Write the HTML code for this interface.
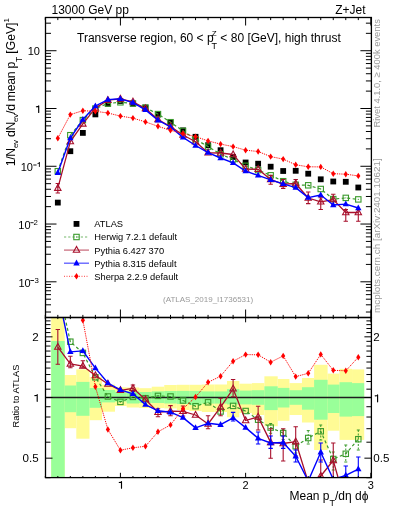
<!DOCTYPE html>
<html><head><meta charset="utf-8"><style>html,body{margin:0;padding:0;background:#fff;width:393px;height:512px;overflow:hidden}svg{display:block;will-change:transform}</style></head>
<body><svg width="393" height="512" viewBox="0 0 393 512" font-family="Liberation Sans, sans-serif">
<defs><clipPath id="c1"><rect x="45.5" y="17.5" width="325.9" height="300.0"/></clipPath>
<clipPath id="c2"><rect x="45.5" y="317.5" width="325.9" height="160.1"/></clipPath></defs>
<rect width="393" height="512" fill="#fff"/>
<g clip-path="url(#c2)">
<rect x="51.20" y="300.00" width="13.50" height="190.00" fill="#fffb95"/>
<rect x="64.70" y="375.00" width="11.60" height="53.20" fill="#fffb95"/>
<rect x="76.30" y="369.40" width="13.20" height="69.30" fill="#fffb95"/>
<rect x="89.50" y="377.00" width="12.50" height="43.20" fill="#fffb95"/>
<rect x="102.00" y="384.60" width="13.00" height="27.10" fill="#fffb95"/>
<rect x="115.00" y="387.30" width="11.68" height="18.70" fill="#fffb95"/>
<rect x="126.68" y="387.50" width="12.52" height="20.00" fill="#fffb95"/>
<rect x="139.20" y="388.20" width="12.52" height="19.80" fill="#fffb95"/>
<rect x="151.72" y="386.70" width="12.52" height="21.30" fill="#fffb95"/>
<rect x="164.24" y="385.00" width="12.52" height="23.40" fill="#fffb95"/>
<rect x="176.76" y="384.80" width="12.52" height="25.20" fill="#fffb95"/>
<rect x="189.28" y="384.80" width="12.52" height="26.20" fill="#fffb95"/>
<rect x="201.80" y="384.50" width="12.52" height="27.50" fill="#fffb95"/>
<rect x="214.32" y="384.50" width="12.68" height="27.50" fill="#fffb95"/>
<rect x="227.00" y="381.00" width="12.36" height="36.30" fill="#fffb95"/>
<rect x="239.36" y="383.70" width="12.52" height="29.30" fill="#fffb95"/>
<rect x="251.88" y="383.10" width="12.52" height="31.90" fill="#fffb95"/>
<rect x="264.40" y="376.30" width="13.30" height="49.90" fill="#fffb95"/>
<rect x="277.70" y="379.00" width="11.74" height="41.80" fill="#fffb95"/>
<rect x="289.44" y="383.10" width="12.52" height="31.90" fill="#fffb95"/>
<rect x="301.96" y="378.00" width="12.14" height="44.50" fill="#fffb95"/>
<rect x="314.10" y="364.80" width="13.50" height="85.20" fill="#fffb95"/>
<rect x="327.60" y="373.60" width="11.92" height="57.10" fill="#fffb95"/>
<rect x="339.52" y="368.80" width="12.52" height="71.10" fill="#fffb95"/>
<rect x="352.04" y="369.40" width="12.16" height="70.50" fill="#fffb95"/>
<rect x="51.20" y="341.00" width="13.50" height="149.00" fill="#99ff99"/>
<rect x="64.70" y="385.50" width="11.60" height="26.70" fill="#99ff99"/>
<rect x="76.30" y="381.90" width="13.20" height="33.90" fill="#99ff99"/>
<rect x="89.50" y="388.00" width="12.50" height="19.80" fill="#99ff99"/>
<rect x="102.00" y="390.00" width="13.00" height="12.40" fill="#99ff99"/>
<rect x="115.00" y="391.70" width="11.68" height="9.80" fill="#99ff99"/>
<rect x="126.68" y="391.30" width="12.52" height="12.20" fill="#99ff99"/>
<rect x="139.20" y="392.00" width="12.52" height="11.00" fill="#99ff99"/>
<rect x="151.72" y="391.30" width="12.52" height="11.70" fill="#99ff99"/>
<rect x="164.24" y="391.00" width="12.52" height="12.50" fill="#99ff99"/>
<rect x="176.76" y="390.90" width="12.52" height="13.10" fill="#99ff99"/>
<rect x="189.28" y="390.90" width="12.52" height="14.10" fill="#99ff99"/>
<rect x="201.80" y="391.40" width="12.52" height="12.20" fill="#99ff99"/>
<rect x="214.32" y="391.40" width="12.68" height="12.20" fill="#99ff99"/>
<rect x="227.00" y="389.10" width="12.36" height="15.30" fill="#99ff99"/>
<rect x="239.36" y="390.60" width="12.52" height="13.80" fill="#99ff99"/>
<rect x="251.88" y="390.20" width="12.52" height="14.60" fill="#99ff99"/>
<rect x="264.40" y="386.30" width="13.30" height="23.80" fill="#99ff99"/>
<rect x="277.70" y="387.90" width="11.74" height="19.60" fill="#99ff99"/>
<rect x="289.44" y="390.20" width="12.52" height="14.60" fill="#99ff99"/>
<rect x="301.96" y="387.20" width="12.14" height="22.50" fill="#99ff99"/>
<rect x="314.10" y="379.80" width="13.50" height="39.90" fill="#99ff99"/>
<rect x="327.60" y="384.60" width="11.92" height="28.40" fill="#99ff99"/>
<rect x="339.52" y="382.20" width="12.52" height="34.40" fill="#99ff99"/>
<rect x="352.04" y="383.10" width="12.16" height="33.00" fill="#99ff99"/>
</g>
<line x1="45.5" y1="397.5" x2="371.4" y2="397.5" stroke="#1e1e1e" stroke-width="1.5"/>
<g clip-path="url(#c1)">
<rect x="54.92" y="199.70" width="5.8" height="5.8" fill="#000"/>
<rect x="67.44" y="148.30" width="5.8" height="5.8" fill="#000"/>
<rect x="79.96" y="130.00" width="5.8" height="5.8" fill="#000"/>
<rect x="92.48" y="111.50" width="5.8" height="5.8" fill="#000"/>
<rect x="105.00" y="100.90" width="5.8" height="5.8" fill="#000"/>
<rect x="117.52" y="98.10" width="5.8" height="5.8" fill="#000"/>
<rect x="130.04" y="100.80" width="5.8" height="5.8" fill="#000"/>
<rect x="142.56" y="104.60" width="5.8" height="5.8" fill="#000"/>
<rect x="155.08" y="111.60" width="5.8" height="5.8" fill="#000"/>
<rect x="167.60" y="119.60" width="5.8" height="5.8" fill="#000"/>
<rect x="180.12" y="127.50" width="5.8" height="5.8" fill="#000"/>
<rect x="192.64" y="133.90" width="5.8" height="5.8" fill="#000"/>
<rect x="205.16" y="142.30" width="5.8" height="5.8" fill="#000"/>
<rect x="217.68" y="147.30" width="5.8" height="5.8" fill="#000"/>
<rect x="230.20" y="154.10" width="5.8" height="5.8" fill="#000"/>
<rect x="242.72" y="159.60" width="5.8" height="5.8" fill="#000"/>
<rect x="255.24" y="160.80" width="5.8" height="5.8" fill="#000"/>
<rect x="267.76" y="163.80" width="5.8" height="5.8" fill="#000"/>
<rect x="280.28" y="168.10" width="5.8" height="5.8" fill="#000"/>
<rect x="292.80" y="167.90" width="5.8" height="5.8" fill="#000"/>
<rect x="305.32" y="170.80" width="5.8" height="5.8" fill="#000"/>
<rect x="317.84" y="176.40" width="5.8" height="5.8" fill="#000"/>
<rect x="330.36" y="178.60" width="5.8" height="5.8" fill="#000"/>
<rect x="342.88" y="178.90" width="5.8" height="5.8" fill="#000"/>
<rect x="355.40" y="184.60" width="5.8" height="5.8" fill="#000"/>
<polyline points="57.82,171.20 70.34,135.20 82.86,120.10 95.38,108.60 107.90,103.50 120.42,102.30 132.94,103.50 145.46,107.70 157.98,114.10 170.50,122.20 183.02,130.90 195.54,139.30 208.06,146.60 220.58,154.20 233.10,159.40 245.62,165.80 258.14,170.10 270.66,175.30 283.18,181.20 295.70,184.80 308.22,185.30 320.74,189.00 333.26,199.10 345.78,197.90 358.30,199.40" fill="none" stroke="#3a9a2c" stroke-width="1.2" stroke-dasharray="3,2.5" stroke-linejoin="round"/>
<rect x="55.12" y="168.50" width="5.4" height="5.4" fill="none" stroke="#3a9a2c" stroke-width="1.1"/><rect x="57.32" y="170.70" width="1" height="1" fill="#3a9a2c"/>
<rect x="67.64" y="132.50" width="5.4" height="5.4" fill="none" stroke="#3a9a2c" stroke-width="1.1"/><rect x="69.84" y="134.70" width="1" height="1" fill="#3a9a2c"/>
<rect x="80.16" y="117.40" width="5.4" height="5.4" fill="none" stroke="#3a9a2c" stroke-width="1.1"/><rect x="82.36" y="119.60" width="1" height="1" fill="#3a9a2c"/>
<rect x="92.68" y="105.90" width="5.4" height="5.4" fill="none" stroke="#3a9a2c" stroke-width="1.1"/><rect x="94.88" y="108.10" width="1" height="1" fill="#3a9a2c"/>
<rect x="105.20" y="100.80" width="5.4" height="5.4" fill="none" stroke="#3a9a2c" stroke-width="1.1"/><rect x="107.40" y="103.00" width="1" height="1" fill="#3a9a2c"/>
<rect x="117.72" y="99.60" width="5.4" height="5.4" fill="none" stroke="#3a9a2c" stroke-width="1.1"/><rect x="119.92" y="101.80" width="1" height="1" fill="#3a9a2c"/>
<rect x="130.24" y="100.80" width="5.4" height="5.4" fill="none" stroke="#3a9a2c" stroke-width="1.1"/><rect x="132.44" y="103.00" width="1" height="1" fill="#3a9a2c"/>
<rect x="142.76" y="105.00" width="5.4" height="5.4" fill="none" stroke="#3a9a2c" stroke-width="1.1"/><rect x="144.96" y="107.20" width="1" height="1" fill="#3a9a2c"/>
<rect x="155.28" y="111.40" width="5.4" height="5.4" fill="none" stroke="#3a9a2c" stroke-width="1.1"/><rect x="157.48" y="113.60" width="1" height="1" fill="#3a9a2c"/>
<rect x="167.80" y="119.50" width="5.4" height="5.4" fill="none" stroke="#3a9a2c" stroke-width="1.1"/><rect x="170.00" y="121.70" width="1" height="1" fill="#3a9a2c"/>
<rect x="180.32" y="128.20" width="5.4" height="5.4" fill="none" stroke="#3a9a2c" stroke-width="1.1"/><rect x="182.52" y="130.40" width="1" height="1" fill="#3a9a2c"/>
<rect x="192.84" y="136.60" width="5.4" height="5.4" fill="none" stroke="#3a9a2c" stroke-width="1.1"/><rect x="195.04" y="138.80" width="1" height="1" fill="#3a9a2c"/>
<rect x="205.36" y="143.90" width="5.4" height="5.4" fill="none" stroke="#3a9a2c" stroke-width="1.1"/><rect x="207.56" y="146.10" width="1" height="1" fill="#3a9a2c"/>
<rect x="217.88" y="151.50" width="5.4" height="5.4" fill="none" stroke="#3a9a2c" stroke-width="1.1"/><rect x="220.08" y="153.70" width="1" height="1" fill="#3a9a2c"/>
<rect x="230.40" y="156.70" width="5.4" height="5.4" fill="none" stroke="#3a9a2c" stroke-width="1.1"/><rect x="232.60" y="158.90" width="1" height="1" fill="#3a9a2c"/>
<rect x="242.92" y="163.10" width="5.4" height="5.4" fill="none" stroke="#3a9a2c" stroke-width="1.1"/><rect x="245.12" y="165.30" width="1" height="1" fill="#3a9a2c"/>
<rect x="255.44" y="167.40" width="5.4" height="5.4" fill="none" stroke="#3a9a2c" stroke-width="1.1"/><rect x="257.64" y="169.60" width="1" height="1" fill="#3a9a2c"/>
<rect x="267.96" y="172.60" width="5.4" height="5.4" fill="none" stroke="#3a9a2c" stroke-width="1.1"/><rect x="270.16" y="174.80" width="1" height="1" fill="#3a9a2c"/>
<rect x="280.48" y="178.50" width="5.4" height="5.4" fill="none" stroke="#3a9a2c" stroke-width="1.1"/><rect x="282.68" y="180.70" width="1" height="1" fill="#3a9a2c"/>
<rect x="293.00" y="182.10" width="5.4" height="5.4" fill="none" stroke="#3a9a2c" stroke-width="1.1"/><rect x="295.20" y="184.30" width="1" height="1" fill="#3a9a2c"/>
<rect x="305.52" y="182.60" width="5.4" height="5.4" fill="none" stroke="#3a9a2c" stroke-width="1.1"/><rect x="307.72" y="184.80" width="1" height="1" fill="#3a9a2c"/>
<rect x="318.04" y="186.30" width="5.4" height="5.4" fill="none" stroke="#3a9a2c" stroke-width="1.1"/><rect x="320.24" y="188.50" width="1" height="1" fill="#3a9a2c"/>
<rect x="330.56" y="196.40" width="5.4" height="5.4" fill="none" stroke="#3a9a2c" stroke-width="1.1"/><rect x="332.76" y="198.60" width="1" height="1" fill="#3a9a2c"/>
<rect x="343.08" y="195.20" width="5.4" height="5.4" fill="none" stroke="#3a9a2c" stroke-width="1.1"/><rect x="345.28" y="197.40" width="1" height="1" fill="#3a9a2c"/>
<rect x="355.60" y="196.70" width="5.4" height="5.4" fill="none" stroke="#3a9a2c" stroke-width="1.1"/><rect x="357.80" y="198.90" width="1" height="1" fill="#3a9a2c"/>
<polyline points="57.82,188.20 70.34,141.60 82.86,123.90 95.38,108.10 107.90,100.20 120.42,98.90 132.94,101.80 145.46,108.50 157.98,119.50 170.50,126.50 183.02,135.00 195.54,141.80 208.06,152.80 220.58,153.00 233.10,154.50 245.62,169.10 258.14,169.30 270.66,179.60 283.18,184.20 295.70,183.50 308.22,198.00 320.74,201.80 333.26,199.60 345.78,212.50 358.30,212.50" fill="none" stroke="#a8102c" stroke-width="1.3" stroke-linejoin="round"/>
<path d="M57.82 183.50V193.00" stroke="#a8102c" stroke-width="1.1" fill="none"/><path d="M55.62 183.50h4.4M55.62 193.00h4.4" stroke="#a8102c" stroke-width="1.1" fill="none"/>
<polygon points="57.82,184.60 54.62,190.40 61.02,190.40" fill="none" stroke="#a8102c" stroke-width="1.1"/>
<polygon points="70.34,138.00 67.14,143.80 73.54,143.80" fill="none" stroke="#a8102c" stroke-width="1.1"/>
<polygon points="82.86,120.30 79.66,126.10 86.06,126.10" fill="none" stroke="#a8102c" stroke-width="1.1"/>
<polygon points="95.38,104.50 92.18,110.30 98.58,110.30" fill="none" stroke="#a8102c" stroke-width="1.1"/>
<polygon points="107.90,96.60 104.70,102.40 111.10,102.40" fill="none" stroke="#a8102c" stroke-width="1.1"/>
<polygon points="120.42,95.30 117.22,101.10 123.62,101.10" fill="none" stroke="#a8102c" stroke-width="1.1"/>
<polygon points="132.94,98.20 129.74,104.00 136.14,104.00" fill="none" stroke="#a8102c" stroke-width="1.1"/>
<polygon points="145.46,104.90 142.26,110.70 148.66,110.70" fill="none" stroke="#a8102c" stroke-width="1.1"/>
<polygon points="157.98,115.90 154.78,121.70 161.18,121.70" fill="none" stroke="#a8102c" stroke-width="1.1"/>
<polygon points="170.50,122.90 167.30,128.70 173.70,128.70" fill="none" stroke="#a8102c" stroke-width="1.1"/>
<polygon points="183.02,131.40 179.82,137.20 186.22,137.20" fill="none" stroke="#a8102c" stroke-width="1.1"/>
<polygon points="195.54,138.20 192.34,144.00 198.74,144.00" fill="none" stroke="#a8102c" stroke-width="1.1"/>
<polygon points="208.06,149.20 204.86,155.00 211.26,155.00" fill="none" stroke="#a8102c" stroke-width="1.1"/>
<polygon points="220.58,149.40 217.38,155.20 223.78,155.20" fill="none" stroke="#a8102c" stroke-width="1.1"/>
<polygon points="233.10,150.90 229.90,156.70 236.30,156.70" fill="none" stroke="#a8102c" stroke-width="1.1"/>
<polygon points="245.62,165.50 242.42,171.30 248.82,171.30" fill="none" stroke="#a8102c" stroke-width="1.1"/>
<polygon points="258.14,165.70 254.94,171.50 261.34,171.50" fill="none" stroke="#a8102c" stroke-width="1.1"/>
<path d="M270.66 175.40V184.30" stroke="#a8102c" stroke-width="1.1" fill="none"/><path d="M268.46 175.40h4.4M268.46 184.30h4.4" stroke="#a8102c" stroke-width="1.1" fill="none"/>
<polygon points="270.66,176.00 267.46,181.80 273.86,181.80" fill="none" stroke="#a8102c" stroke-width="1.1"/>
<path d="M283.18 179.50V188.40" stroke="#a8102c" stroke-width="1.1" fill="none"/><path d="M280.98 179.50h4.4M280.98 188.40h4.4" stroke="#a8102c" stroke-width="1.1" fill="none"/>
<polygon points="283.18,180.60 279.98,186.40 286.38,186.40" fill="none" stroke="#a8102c" stroke-width="1.1"/>
<path d="M295.70 179.50V188.40" stroke="#a8102c" stroke-width="1.1" fill="none"/><path d="M293.50 179.50h4.4M293.50 188.40h4.4" stroke="#a8102c" stroke-width="1.1" fill="none"/>
<polygon points="295.70,179.90 292.50,185.70 298.90,185.70" fill="none" stroke="#a8102c" stroke-width="1.1"/>
<path d="M308.22 192.00V203.60" stroke="#a8102c" stroke-width="1.1" fill="none"/><path d="M306.02 192.00h4.4M306.02 203.60h4.4" stroke="#a8102c" stroke-width="1.1" fill="none"/>
<polygon points="308.22,194.40 305.02,200.20 311.42,200.20" fill="none" stroke="#a8102c" stroke-width="1.1"/>
<path d="M320.74 197.80V209.50" stroke="#a8102c" stroke-width="1.1" fill="none"/><path d="M318.54 197.80h4.4M318.54 209.50h4.4" stroke="#a8102c" stroke-width="1.1" fill="none"/>
<polygon points="320.74,198.20 317.54,204.00 323.94,204.00" fill="none" stroke="#a8102c" stroke-width="1.1"/>
<path d="M333.26 194.30V204.80" stroke="#a8102c" stroke-width="1.1" fill="none"/><path d="M331.06 194.30h4.4M331.06 204.80h4.4" stroke="#a8102c" stroke-width="1.1" fill="none"/>
<polygon points="333.26,196.00 330.06,201.80 336.46,201.80" fill="none" stroke="#a8102c" stroke-width="1.1"/>
<path d="M345.78 209.50V221.20" stroke="#a8102c" stroke-width="1.1" fill="none"/><path d="M343.58 209.50h4.4M343.58 221.20h4.4" stroke="#a8102c" stroke-width="1.1" fill="none"/>
<polygon points="345.78,208.90 342.58,214.70 348.98,214.70" fill="none" stroke="#a8102c" stroke-width="1.1"/>
<path d="M358.30 209.50V221.20" stroke="#a8102c" stroke-width="1.1" fill="none"/><path d="M356.10 209.50h4.4M356.10 221.20h4.4" stroke="#a8102c" stroke-width="1.1" fill="none"/>
<polygon points="358.30,208.90 355.10,214.70 361.50,214.70" fill="none" stroke="#a8102c" stroke-width="1.1"/>
<polyline points="57.82,172.70 70.34,138.10 82.86,119.50 95.38,106.00 107.90,99.60 120.42,98.80 132.94,102.60 145.46,109.90 157.98,120.20 170.50,127.00 183.02,137.40 195.54,145.50 208.06,152.60 220.58,158.00 233.10,162.80 245.62,171.10 258.14,175.40 270.66,179.80 283.18,183.90 295.70,187.60 308.22,197.60 320.74,195.00 333.26,205.00 345.78,204.10 358.30,208.00" fill="none" stroke="#0000ff" stroke-width="1.4" stroke-linejoin="round"/>
<polygon points="57.82,169.10 54.62,174.90 61.02,174.90" fill="#0000ff"/>
<polygon points="70.34,134.50 67.14,140.30 73.54,140.30" fill="#0000ff"/>
<polygon points="82.86,115.90 79.66,121.70 86.06,121.70" fill="#0000ff"/>
<polygon points="95.38,102.40 92.18,108.20 98.58,108.20" fill="#0000ff"/>
<polygon points="107.90,96.00 104.70,101.80 111.10,101.80" fill="#0000ff"/>
<polygon points="120.42,95.20 117.22,101.00 123.62,101.00" fill="#0000ff"/>
<polygon points="132.94,99.00 129.74,104.80 136.14,104.80" fill="#0000ff"/>
<polygon points="145.46,106.30 142.26,112.10 148.66,112.10" fill="#0000ff"/>
<polygon points="157.98,116.60 154.78,122.40 161.18,122.40" fill="#0000ff"/>
<polygon points="170.50,123.40 167.30,129.20 173.70,129.20" fill="#0000ff"/>
<polygon points="183.02,133.80 179.82,139.60 186.22,139.60" fill="#0000ff"/>
<polygon points="195.54,141.90 192.34,147.70 198.74,147.70" fill="#0000ff"/>
<polygon points="208.06,149.00 204.86,154.80 211.26,154.80" fill="#0000ff"/>
<polygon points="220.58,154.40 217.38,160.20 223.78,160.20" fill="#0000ff"/>
<polygon points="233.10,159.20 229.90,165.00 236.30,165.00" fill="#0000ff"/>
<polygon points="245.62,167.50 242.42,173.30 248.82,173.30" fill="#0000ff"/>
<polygon points="258.14,171.80 254.94,177.60 261.34,177.60" fill="#0000ff"/>
<polygon points="270.66,176.20 267.46,182.00 273.86,182.00" fill="#0000ff"/>
<polygon points="283.18,180.30 279.98,186.10 286.38,186.10" fill="#0000ff"/>
<polygon points="295.70,184.00 292.50,189.80 298.90,189.80" fill="#0000ff"/>
<polygon points="308.22,194.00 305.02,199.80 311.42,199.80" fill="#0000ff"/>
<polygon points="320.74,191.40 317.54,197.20 323.94,197.20" fill="#0000ff"/>
<polygon points="333.26,201.40 330.06,207.20 336.46,207.20" fill="#0000ff"/>
<polygon points="345.78,200.50 342.58,206.30 348.98,206.30" fill="#0000ff"/>
<polygon points="358.30,204.40 355.10,210.20 361.50,210.20" fill="#0000ff"/>
<polyline points="57.82,138.20 70.34,114.60 82.86,110.70 95.38,111.30 107.90,113.00 120.42,116.10 132.94,118.10 145.46,121.90 157.98,126.30 170.50,130.30 183.02,133.60 195.54,136.60 208.06,140.90 220.58,144.10 233.10,146.60 245.62,150.20 258.14,151.50 270.66,156.60 283.18,159.10 295.70,164.80 308.22,166.80 320.74,166.90 333.26,173.70 345.78,174.20 358.30,175.90" fill="none" stroke="#ff0000" stroke-width="1.0" stroke-dasharray="1.2,1" stroke-linejoin="round"/>
<polygon points="57.82,135.00 59.92,138.20 57.82,141.40 55.72,138.20" fill="#ff0000"/>
<polygon points="70.34,111.40 72.44,114.60 70.34,117.80 68.24,114.60" fill="#ff0000"/>
<polygon points="82.86,107.50 84.96,110.70 82.86,113.90 80.76,110.70" fill="#ff0000"/>
<polygon points="95.38,108.10 97.48,111.30 95.38,114.50 93.28,111.30" fill="#ff0000"/>
<polygon points="107.90,109.80 110.00,113.00 107.90,116.20 105.80,113.00" fill="#ff0000"/>
<polygon points="120.42,112.90 122.52,116.10 120.42,119.30 118.32,116.10" fill="#ff0000"/>
<polygon points="132.94,114.90 135.04,118.10 132.94,121.30 130.84,118.10" fill="#ff0000"/>
<polygon points="145.46,118.70 147.56,121.90 145.46,125.10 143.36,121.90" fill="#ff0000"/>
<polygon points="157.98,123.10 160.08,126.30 157.98,129.50 155.88,126.30" fill="#ff0000"/>
<polygon points="170.50,127.10 172.60,130.30 170.50,133.50 168.40,130.30" fill="#ff0000"/>
<polygon points="183.02,130.40 185.12,133.60 183.02,136.80 180.92,133.60" fill="#ff0000"/>
<polygon points="195.54,133.40 197.64,136.60 195.54,139.80 193.44,136.60" fill="#ff0000"/>
<polygon points="208.06,137.70 210.16,140.90 208.06,144.10 205.96,140.90" fill="#ff0000"/>
<polygon points="220.58,140.90 222.68,144.10 220.58,147.30 218.48,144.10" fill="#ff0000"/>
<polygon points="233.10,143.40 235.20,146.60 233.10,149.80 231.00,146.60" fill="#ff0000"/>
<polygon points="245.62,147.00 247.72,150.20 245.62,153.40 243.52,150.20" fill="#ff0000"/>
<polygon points="258.14,148.30 260.24,151.50 258.14,154.70 256.04,151.50" fill="#ff0000"/>
<polygon points="270.66,153.40 272.76,156.60 270.66,159.80 268.56,156.60" fill="#ff0000"/>
<polygon points="283.18,155.90 285.28,159.10 283.18,162.30 281.08,159.10" fill="#ff0000"/>
<polygon points="295.70,161.60 297.80,164.80 295.70,168.00 293.60,164.80" fill="#ff0000"/>
<polygon points="308.22,163.60 310.32,166.80 308.22,170.00 306.12,166.80" fill="#ff0000"/>
<polygon points="320.74,163.70 322.84,166.90 320.74,170.10 318.64,166.90" fill="#ff0000"/>
<polygon points="333.26,170.50 335.36,173.70 333.26,176.90 331.16,173.70" fill="#ff0000"/>
<polygon points="345.78,171.00 347.88,174.20 345.78,177.40 343.68,174.20" fill="#ff0000"/>
<polygon points="358.30,172.70 360.40,175.90 358.30,179.10 356.20,175.90" fill="#ff0000"/>
</g>
<g clip-path="url(#c2)">
<polyline points="57.82,285.00 70.34,341.70 82.86,352.90 95.38,377.30 107.90,396.50 120.42,401.90 132.94,396.90 145.46,398.20 157.98,395.90 170.50,396.50 183.02,400.50 195.54,406.20 208.06,402.30 220.58,411.50 233.10,405.90 245.62,411.00 258.14,419.70 270.66,427.60 283.18,433.10 295.70,446.20 308.22,438.00 320.74,431.30 333.26,459.00 345.78,453.80 358.30,439.20" fill="none" stroke="#3a9a2c" stroke-width="1.2" stroke-dasharray="3,2.5" stroke-linejoin="round"/>
<rect x="55.12" y="282.30" width="5.4" height="5.4" fill="none" stroke="#3a9a2c" stroke-width="1.1"/><rect x="57.32" y="284.50" width="1" height="1" fill="#3a9a2c"/>
<rect x="67.64" y="339.00" width="5.4" height="5.4" fill="none" stroke="#3a9a2c" stroke-width="1.1"/><rect x="69.84" y="341.20" width="1" height="1" fill="#3a9a2c"/>
<rect x="80.16" y="350.20" width="5.4" height="5.4" fill="none" stroke="#3a9a2c" stroke-width="1.1"/><rect x="82.36" y="352.40" width="1" height="1" fill="#3a9a2c"/>
<rect x="92.68" y="374.60" width="5.4" height="5.4" fill="none" stroke="#3a9a2c" stroke-width="1.1"/><rect x="94.88" y="376.80" width="1" height="1" fill="#3a9a2c"/>
<rect x="105.20" y="393.80" width="5.4" height="5.4" fill="none" stroke="#3a9a2c" stroke-width="1.1"/><rect x="107.40" y="396.00" width="1" height="1" fill="#3a9a2c"/>
<rect x="117.72" y="399.20" width="5.4" height="5.4" fill="none" stroke="#3a9a2c" stroke-width="1.1"/><rect x="119.92" y="401.40" width="1" height="1" fill="#3a9a2c"/>
<rect x="130.24" y="394.20" width="5.4" height="5.4" fill="none" stroke="#3a9a2c" stroke-width="1.1"/><rect x="132.44" y="396.40" width="1" height="1" fill="#3a9a2c"/>
<rect x="142.76" y="395.50" width="5.4" height="5.4" fill="none" stroke="#3a9a2c" stroke-width="1.1"/><rect x="144.96" y="397.70" width="1" height="1" fill="#3a9a2c"/>
<rect x="155.28" y="393.20" width="5.4" height="5.4" fill="none" stroke="#3a9a2c" stroke-width="1.1"/><rect x="157.48" y="395.40" width="1" height="1" fill="#3a9a2c"/>
<rect x="167.80" y="393.80" width="5.4" height="5.4" fill="none" stroke="#3a9a2c" stroke-width="1.1"/><rect x="170.00" y="396.00" width="1" height="1" fill="#3a9a2c"/>
<rect x="180.32" y="397.80" width="5.4" height="5.4" fill="none" stroke="#3a9a2c" stroke-width="1.1"/><rect x="182.52" y="400.00" width="1" height="1" fill="#3a9a2c"/>
<rect x="192.84" y="403.50" width="5.4" height="5.4" fill="none" stroke="#3a9a2c" stroke-width="1.1"/><rect x="195.04" y="405.70" width="1" height="1" fill="#3a9a2c"/>
<rect x="205.36" y="399.60" width="5.4" height="5.4" fill="none" stroke="#3a9a2c" stroke-width="1.1"/><rect x="207.56" y="401.80" width="1" height="1" fill="#3a9a2c"/>
<rect x="217.88" y="408.80" width="5.4" height="5.4" fill="none" stroke="#3a9a2c" stroke-width="1.1"/><rect x="220.08" y="411.00" width="1" height="1" fill="#3a9a2c"/>
<rect x="230.40" y="403.20" width="5.4" height="5.4" fill="none" stroke="#3a9a2c" stroke-width="1.1"/><rect x="232.60" y="405.40" width="1" height="1" fill="#3a9a2c"/>
<rect x="242.92" y="408.30" width="5.4" height="5.4" fill="none" stroke="#3a9a2c" stroke-width="1.1"/><rect x="245.12" y="410.50" width="1" height="1" fill="#3a9a2c"/>
<rect x="255.44" y="417.00" width="5.4" height="5.4" fill="none" stroke="#3a9a2c" stroke-width="1.1"/><rect x="257.64" y="419.20" width="1" height="1" fill="#3a9a2c"/>
<path d="M270.66 423.50V433.30" stroke="#3a9a2c" stroke-width="1.0" fill="none" stroke-dasharray="2,1.5"/><path d="M269.16 423.50h3.0M269.16 433.30h3.0" stroke="#3a9a2c" stroke-width="1.0" fill="none"/>
<rect x="267.96" y="424.90" width="5.4" height="5.4" fill="none" stroke="#3a9a2c" stroke-width="1.1"/><rect x="270.16" y="427.10" width="1" height="1" fill="#3a9a2c"/>
<path d="M283.18 429.70V439.50" stroke="#3a9a2c" stroke-width="1.0" fill="none" stroke-dasharray="2,1.5"/><path d="M281.68 429.70h3.0M281.68 439.50h3.0" stroke="#3a9a2c" stroke-width="1.0" fill="none"/>
<rect x="280.48" y="430.40" width="5.4" height="5.4" fill="none" stroke="#3a9a2c" stroke-width="1.1"/><rect x="282.68" y="432.60" width="1" height="1" fill="#3a9a2c"/>
<path d="M295.70 441.00V453.00" stroke="#3a9a2c" stroke-width="1.0" fill="none" stroke-dasharray="2,1.5"/><path d="M294.20 441.00h3.0M294.20 453.00h3.0" stroke="#3a9a2c" stroke-width="1.0" fill="none"/>
<rect x="293.00" y="443.50" width="5.4" height="5.4" fill="none" stroke="#3a9a2c" stroke-width="1.1"/><rect x="295.20" y="445.70" width="1" height="1" fill="#3a9a2c"/>
<path d="M308.22 430.60V444.00" stroke="#3a9a2c" stroke-width="1.0" fill="none" stroke-dasharray="2,1.5"/><path d="M306.72 430.60h3.0M306.72 444.00h3.0" stroke="#3a9a2c" stroke-width="1.0" fill="none"/>
<rect x="305.52" y="435.30" width="5.4" height="5.4" fill="none" stroke="#3a9a2c" stroke-width="1.1"/><rect x="307.72" y="437.50" width="1" height="1" fill="#3a9a2c"/>
<path d="M320.74 425.00V440.00" stroke="#3a9a2c" stroke-width="1.0" fill="none" stroke-dasharray="2,1.5"/><path d="M319.24 425.00h3.0M319.24 440.00h3.0" stroke="#3a9a2c" stroke-width="1.0" fill="none"/>
<rect x="318.04" y="428.60" width="5.4" height="5.4" fill="none" stroke="#3a9a2c" stroke-width="1.1"/><rect x="320.24" y="430.80" width="1" height="1" fill="#3a9a2c"/>
<path d="M333.26 452.00V470.00" stroke="#3a9a2c" stroke-width="1.0" fill="none" stroke-dasharray="2,1.5"/><path d="M331.76 452.00h3.0M331.76 470.00h3.0" stroke="#3a9a2c" stroke-width="1.0" fill="none"/>
<rect x="330.56" y="456.30" width="5.4" height="5.4" fill="none" stroke="#3a9a2c" stroke-width="1.1"/><rect x="332.76" y="458.50" width="1" height="1" fill="#3a9a2c"/>
<path d="M345.78 445.00V462.00" stroke="#3a9a2c" stroke-width="1.0" fill="none" stroke-dasharray="2,1.5"/><path d="M344.28 445.00h3.0M344.28 462.00h3.0" stroke="#3a9a2c" stroke-width="1.0" fill="none"/>
<rect x="343.08" y="451.10" width="5.4" height="5.4" fill="none" stroke="#3a9a2c" stroke-width="1.1"/><rect x="345.28" y="453.30" width="1" height="1" fill="#3a9a2c"/>
<path d="M358.30 430.00V450.00" stroke="#3a9a2c" stroke-width="1.0" fill="none" stroke-dasharray="2,1.5"/><path d="M356.80 430.00h3.0M356.80 450.00h3.0" stroke="#3a9a2c" stroke-width="1.0" fill="none"/>
<rect x="355.60" y="436.50" width="5.4" height="5.4" fill="none" stroke="#3a9a2c" stroke-width="1.1"/><rect x="357.80" y="438.70" width="1" height="1" fill="#3a9a2c"/>
<polyline points="57.82,347.10 70.34,363.90 82.86,366.10 95.38,375.50 107.90,384.00 120.42,390.30 132.94,388.30 145.46,399.50 157.98,412.30 170.50,411.20 183.02,411.30 195.54,415.00 208.06,424.00 220.58,407.10 233.10,388.80 245.62,420.50 258.14,416.90 270.66,442.40 283.18,443.50 295.70,441.70 308.22,482.00 320.74,476.00 333.26,460.50 345.78,505.00 358.30,485.00" fill="none" stroke="#a8102c" stroke-width="1.3" stroke-linejoin="round"/>
<path d="M57.82 329.50V364.20" stroke="#a8102c" stroke-width="1.1" fill="none"/><path d="M55.62 329.50h4.4M55.62 364.20h4.4" stroke="#a8102c" stroke-width="1.1" fill="none"/>
<polygon points="57.82,343.50 54.62,349.30 61.02,349.30" fill="none" stroke="#a8102c" stroke-width="1.1"/>
<path d="M70.34 356.20V367.70" stroke="#a8102c" stroke-width="1.1" fill="none"/><path d="M68.14 356.20h4.4M68.14 367.70h4.4" stroke="#a8102c" stroke-width="1.1" fill="none"/>
<polygon points="70.34,360.30 67.14,366.10 73.54,366.10" fill="none" stroke="#a8102c" stroke-width="1.1"/>
<path d="M82.86 360.80V367.70" stroke="#a8102c" stroke-width="1.1" fill="none"/><path d="M80.66 360.80h4.4M80.66 367.70h4.4" stroke="#a8102c" stroke-width="1.1" fill="none"/>
<polygon points="82.86,362.50 79.66,368.30 86.06,368.30" fill="none" stroke="#a8102c" stroke-width="1.1"/>
<polygon points="95.38,371.90 92.18,377.70 98.58,377.70" fill="none" stroke="#a8102c" stroke-width="1.1"/>
<polygon points="107.90,380.40 104.70,386.20 111.10,386.20" fill="none" stroke="#a8102c" stroke-width="1.1"/>
<polygon points="120.42,386.70 117.22,392.50 123.62,392.50" fill="none" stroke="#a8102c" stroke-width="1.1"/>
<path d="M132.94 385.00V391.50" stroke="#a8102c" stroke-width="1.1" fill="none"/><path d="M130.74 385.00h4.4M130.74 391.50h4.4" stroke="#a8102c" stroke-width="1.1" fill="none"/>
<polygon points="132.94,384.70 129.74,390.50 136.14,390.50" fill="none" stroke="#a8102c" stroke-width="1.1"/>
<polygon points="145.46,395.90 142.26,401.70 148.66,401.70" fill="none" stroke="#a8102c" stroke-width="1.1"/>
<path d="M157.98 408.70V416.80" stroke="#a8102c" stroke-width="1.1" fill="none"/><path d="M155.78 408.70h4.4M155.78 416.80h4.4" stroke="#a8102c" stroke-width="1.1" fill="none"/>
<polygon points="157.98,408.70 154.78,414.50 161.18,414.50" fill="none" stroke="#a8102c" stroke-width="1.1"/>
<path d="M170.50 405.60V415.80" stroke="#a8102c" stroke-width="1.1" fill="none"/><path d="M168.30 405.60h4.4M168.30 415.80h4.4" stroke="#a8102c" stroke-width="1.1" fill="none"/>
<polygon points="170.50,407.60 167.30,413.40 173.70,413.40" fill="none" stroke="#a8102c" stroke-width="1.1"/>
<path d="M183.02 406.00V416.00" stroke="#a8102c" stroke-width="1.1" fill="none"/><path d="M180.82 406.00h4.4M180.82 416.00h4.4" stroke="#a8102c" stroke-width="1.1" fill="none"/>
<polygon points="183.02,407.70 179.82,413.50 186.22,413.50" fill="none" stroke="#a8102c" stroke-width="1.1"/>
<polygon points="195.54,411.40 192.34,417.20 198.74,417.20" fill="none" stroke="#a8102c" stroke-width="1.1"/>
<path d="M208.06 415.80V428.80" stroke="#a8102c" stroke-width="1.1" fill="none"/><path d="M205.86 415.80h4.4M205.86 428.80h4.4" stroke="#a8102c" stroke-width="1.1" fill="none"/>
<polygon points="208.06,420.40 204.86,426.20 211.26,426.20" fill="none" stroke="#a8102c" stroke-width="1.1"/>
<path d="M220.58 398.20V415.80" stroke="#a8102c" stroke-width="1.1" fill="none"/><path d="M218.38 398.20h4.4M218.38 415.80h4.4" stroke="#a8102c" stroke-width="1.1" fill="none"/>
<polygon points="220.58,403.50 217.38,409.30 223.78,409.30" fill="none" stroke="#a8102c" stroke-width="1.1"/>
<path d="M233.10 379.50V396.70" stroke="#a8102c" stroke-width="1.1" fill="none"/><path d="M230.90 379.50h4.4M230.90 396.70h4.4" stroke="#a8102c" stroke-width="1.1" fill="none"/>
<polygon points="233.10,385.20 229.90,391.00 236.30,391.00" fill="none" stroke="#a8102c" stroke-width="1.1"/>
<polygon points="245.62,416.90 242.42,422.70 248.82,422.70" fill="none" stroke="#a8102c" stroke-width="1.1"/>
<path d="M258.14 406.30V430.00" stroke="#a8102c" stroke-width="1.1" fill="none"/><path d="M255.94 406.30h4.4M255.94 430.00h4.4" stroke="#a8102c" stroke-width="1.1" fill="none"/>
<polygon points="258.14,413.30 254.94,419.10 261.34,419.10" fill="none" stroke="#a8102c" stroke-width="1.1"/>
<path d="M270.66 428.80V458.20" stroke="#a8102c" stroke-width="1.1" fill="none"/><path d="M268.46 428.80h4.4M268.46 458.20h4.4" stroke="#a8102c" stroke-width="1.1" fill="none"/>
<polygon points="270.66,438.80 267.46,444.60 273.86,444.60" fill="none" stroke="#a8102c" stroke-width="1.1"/>
<path d="M283.18 428.80V461.00" stroke="#a8102c" stroke-width="1.1" fill="none"/><path d="M280.98 428.80h4.4M280.98 461.00h4.4" stroke="#a8102c" stroke-width="1.1" fill="none"/>
<polygon points="283.18,439.90 279.98,445.70 286.38,445.70" fill="none" stroke="#a8102c" stroke-width="1.1"/>
<path d="M295.70 426.70V456.00" stroke="#a8102c" stroke-width="1.1" fill="none"/><path d="M293.50 426.70h4.4M293.50 456.00h4.4" stroke="#a8102c" stroke-width="1.1" fill="none"/>
<polygon points="295.70,438.10 292.50,443.90 298.90,443.90" fill="none" stroke="#a8102c" stroke-width="1.1"/>
<polygon points="308.22,478.40 305.02,484.20 311.42,484.20" fill="none" stroke="#a8102c" stroke-width="1.1"/>
<path d="M320.74 460.00V480.00" stroke="#a8102c" stroke-width="1.1" fill="none"/><path d="M318.54 460.00h4.4M318.54 480.00h4.4" stroke="#a8102c" stroke-width="1.1" fill="none"/>
<polygon points="320.74,472.40 317.54,478.20 323.94,478.20" fill="none" stroke="#a8102c" stroke-width="1.1"/>
<path d="M333.26 443.00V480.00" stroke="#a8102c" stroke-width="1.1" fill="none"/><path d="M331.06 443.00h4.4M331.06 480.00h4.4" stroke="#a8102c" stroke-width="1.1" fill="none"/>
<polygon points="333.26,456.90 330.06,462.70 336.46,462.70" fill="none" stroke="#a8102c" stroke-width="1.1"/>
<polygon points="345.78,501.40 342.58,507.20 348.98,507.20" fill="none" stroke="#a8102c" stroke-width="1.1"/>
<polygon points="358.30,481.40 355.10,487.20 361.50,487.20" fill="none" stroke="#a8102c" stroke-width="1.1"/>
<polyline points="57.82,292.00 70.34,351.90 82.86,350.90 95.38,368.10 107.90,383.00 120.42,389.90 132.94,393.80 145.46,404.60 157.98,410.80 170.50,412.20 183.02,417.60 195.54,427.90 208.06,423.30 220.58,424.70 233.10,417.80 245.62,427.60 258.14,438.30 270.66,443.00 283.18,442.50 295.70,456.20 308.22,481.00 320.74,452.20 333.26,479.30 345.78,475.30 358.30,469.10" fill="none" stroke="#0000ff" stroke-width="1.4" stroke-linejoin="round"/>
<polygon points="57.82,288.40 54.62,294.20 61.02,294.20" fill="#0000ff"/>
<polygon points="70.34,348.30 67.14,354.10 73.54,354.10" fill="#0000ff"/>
<polygon points="82.86,347.30 79.66,353.10 86.06,353.10" fill="#0000ff"/>
<polygon points="95.38,364.50 92.18,370.30 98.58,370.30" fill="#0000ff"/>
<polygon points="107.90,379.40 104.70,385.20 111.10,385.20" fill="#0000ff"/>
<polygon points="120.42,386.30 117.22,392.10 123.62,392.10" fill="#0000ff"/>
<polygon points="132.94,390.20 129.74,396.00 136.14,396.00" fill="#0000ff"/>
<polygon points="145.46,401.00 142.26,406.80 148.66,406.80" fill="#0000ff"/>
<polygon points="157.98,407.20 154.78,413.00 161.18,413.00" fill="#0000ff"/>
<polygon points="170.50,408.60 167.30,414.40 173.70,414.40" fill="#0000ff"/>
<polygon points="183.02,414.00 179.82,419.80 186.22,419.80" fill="#0000ff"/>
<polygon points="195.54,424.30 192.34,430.10 198.74,430.10" fill="#0000ff"/>
<polygon points="208.06,419.70 204.86,425.50 211.26,425.50" fill="#0000ff"/>
<polygon points="220.58,421.10 217.38,426.90 223.78,426.90" fill="#0000ff"/>
<path d="M233.10 412.40V421.00" stroke="#0000ff" stroke-width="1.1" fill="none"/><path d="M230.90 412.40h4.4M230.90 421.00h4.4" stroke="#0000ff" stroke-width="1.1" fill="none"/>
<polygon points="233.10,414.20 229.90,420.00 236.30,420.00" fill="#0000ff"/>
<polygon points="245.62,424.00 242.42,429.80 248.82,429.80" fill="#0000ff"/>
<path d="M258.14 432.00V444.00" stroke="#0000ff" stroke-width="1.1" fill="none"/><path d="M255.94 432.00h4.4M255.94 444.00h4.4" stroke="#0000ff" stroke-width="1.1" fill="none"/>
<polygon points="258.14,434.70 254.94,440.50 261.34,440.50" fill="#0000ff"/>
<path d="M270.66 436.00V448.40" stroke="#0000ff" stroke-width="1.1" fill="none"/><path d="M268.46 436.00h4.4M268.46 448.40h4.4" stroke="#0000ff" stroke-width="1.1" fill="none"/>
<polygon points="270.66,439.40 267.46,445.20 273.86,445.20" fill="#0000ff"/>
<path d="M283.18 436.00V448.40" stroke="#0000ff" stroke-width="1.1" fill="none"/><path d="M280.98 436.00h4.4M280.98 448.40h4.4" stroke="#0000ff" stroke-width="1.1" fill="none"/>
<polygon points="283.18,438.90 279.98,444.70 286.38,444.70" fill="#0000ff"/>
<path d="M295.70 450.00V462.00" stroke="#0000ff" stroke-width="1.1" fill="none"/><path d="M293.50 450.00h4.4M293.50 462.00h4.4" stroke="#0000ff" stroke-width="1.1" fill="none"/>
<polygon points="295.70,452.60 292.50,458.40 298.90,458.40" fill="#0000ff"/>
<polygon points="308.22,477.40 305.02,483.20 311.42,483.20" fill="#0000ff"/>
<path d="M320.74 443.00V462.00" stroke="#0000ff" stroke-width="1.1" fill="none"/><path d="M318.54 443.00h4.4M318.54 462.00h4.4" stroke="#0000ff" stroke-width="1.1" fill="none"/>
<polygon points="320.74,448.60 317.54,454.40 323.94,454.40" fill="#0000ff"/>
<polygon points="333.26,475.70 330.06,481.50 336.46,481.50" fill="#0000ff"/>
<path d="M345.78 466.00V480.00" stroke="#0000ff" stroke-width="1.1" fill="none"/><path d="M343.58 466.00h4.4M343.58 480.00h4.4" stroke="#0000ff" stroke-width="1.1" fill="none"/>
<polygon points="345.78,471.70 342.58,477.50 348.98,477.50" fill="#0000ff"/>
<path d="M358.30 457.00V480.00" stroke="#0000ff" stroke-width="1.1" fill="none"/><path d="M356.10 457.00h4.4M356.10 480.00h4.4" stroke="#0000ff" stroke-width="1.1" fill="none"/>
<polygon points="358.30,465.50 355.10,471.30 361.50,471.30" fill="#0000ff"/>
<polyline points="57.82,173.00 70.34,270.00 82.86,320.20 95.38,386.80 107.90,429.50 120.42,450.20 132.94,447.80 145.46,446.30 157.98,431.80 170.50,424.90 183.02,408.80 195.54,397.00 208.06,382.30 220.58,376.20 233.10,361.20 245.62,354.60 258.14,354.80 270.66,362.20 283.18,355.90 295.70,376.60 308.22,373.30 320.74,354.40 333.26,370.30 345.78,370.80 358.30,357.20" fill="none" stroke="#ff0000" stroke-width="1.0" stroke-dasharray="1.2,1" stroke-linejoin="round"/>
<polygon points="57.82,169.80 59.92,173.00 57.82,176.20 55.72,173.00" fill="#ff0000"/>
<polygon points="70.34,266.80 72.44,270.00 70.34,273.20 68.24,270.00" fill="#ff0000"/>
<polygon points="82.86,317.00 84.96,320.20 82.86,323.40 80.76,320.20" fill="#ff0000"/>
<polygon points="95.38,383.60 97.48,386.80 95.38,390.00 93.28,386.80" fill="#ff0000"/>
<polygon points="107.90,426.30 110.00,429.50 107.90,432.70 105.80,429.50" fill="#ff0000"/>
<polygon points="120.42,447.00 122.52,450.20 120.42,453.40 118.32,450.20" fill="#ff0000"/>
<polygon points="132.94,444.60 135.04,447.80 132.94,451.00 130.84,447.80" fill="#ff0000"/>
<polygon points="145.46,443.10 147.56,446.30 145.46,449.50 143.36,446.30" fill="#ff0000"/>
<polygon points="157.98,428.60 160.08,431.80 157.98,435.00 155.88,431.80" fill="#ff0000"/>
<polygon points="170.50,421.70 172.60,424.90 170.50,428.10 168.40,424.90" fill="#ff0000"/>
<polygon points="183.02,405.60 185.12,408.80 183.02,412.00 180.92,408.80" fill="#ff0000"/>
<polygon points="195.54,393.80 197.64,397.00 195.54,400.20 193.44,397.00" fill="#ff0000"/>
<polygon points="208.06,379.10 210.16,382.30 208.06,385.50 205.96,382.30" fill="#ff0000"/>
<polygon points="220.58,373.00 222.68,376.20 220.58,379.40 218.48,376.20" fill="#ff0000"/>
<polygon points="233.10,358.00 235.20,361.20 233.10,364.40 231.00,361.20" fill="#ff0000"/>
<polygon points="245.62,351.40 247.72,354.60 245.62,357.80 243.52,354.60" fill="#ff0000"/>
<polygon points="258.14,351.60 260.24,354.80 258.14,358.00 256.04,354.80" fill="#ff0000"/>
<polygon points="270.66,359.00 272.76,362.20 270.66,365.40 268.56,362.20" fill="#ff0000"/>
<polygon points="283.18,352.70 285.28,355.90 283.18,359.10 281.08,355.90" fill="#ff0000"/>
<polygon points="295.70,373.40 297.80,376.60 295.70,379.80 293.60,376.60" fill="#ff0000"/>
<polygon points="308.22,370.10 310.32,373.30 308.22,376.50 306.12,373.30" fill="#ff0000"/>
<polygon points="320.74,351.20 322.84,354.40 320.74,357.60 318.64,354.40" fill="#ff0000"/>
<polygon points="333.26,367.10 335.36,370.30 333.26,373.50 331.16,370.30" fill="#ff0000"/>
<polygon points="345.78,367.60 347.88,370.80 345.78,374.00 343.68,370.80" fill="#ff0000"/>
<polygon points="358.30,354.00 360.40,357.20 358.30,360.40 356.20,357.20" fill="#ff0000"/>
</g>
<g fill="none" stroke="#000" stroke-width="1.3">
<rect x="45.5" y="17.5" width="325.9" height="300.0"/>
<rect x="45.5" y="317.5" width="325.9" height="160.1"/>
</g>
<path d="M45.30 17.50v2.6 M45.30 317.50v-2.6 M57.82 17.50v2.6 M57.82 317.50v-2.6 M70.34 17.50v2.6 M70.34 317.50v-2.6 M82.86 17.50v2.6 M82.86 317.50v-2.6 M95.38 17.50v2.6 M95.38 317.50v-2.6 M107.90 17.50v2.6 M107.90 317.50v-2.6 M120.42 17.50v8.0 M120.42 317.50v-8.0 M132.94 17.50v2.6 M132.94 317.50v-2.6 M145.46 17.50v2.6 M145.46 317.50v-2.6 M157.98 17.50v2.6 M157.98 317.50v-2.6 M170.50 17.50v2.6 M170.50 317.50v-2.6 M183.02 17.50v2.6 M183.02 317.50v-2.6 M195.54 17.50v2.6 M195.54 317.50v-2.6 M208.06 17.50v2.6 M208.06 317.50v-2.6 M220.58 17.50v2.6 M220.58 317.50v-2.6 M233.10 17.50v2.6 M233.10 317.50v-2.6 M245.62 17.50v8.0 M245.62 317.50v-8.0 M258.14 17.50v2.6 M258.14 317.50v-2.6 M270.66 17.50v2.6 M270.66 317.50v-2.6 M283.18 17.50v2.6 M283.18 317.50v-2.6 M295.70 17.50v2.6 M295.70 317.50v-2.6 M308.22 17.50v2.6 M308.22 317.50v-2.6 M320.74 17.50v2.6 M320.74 317.50v-2.6 M333.26 17.50v2.6 M333.26 317.50v-2.6 M345.78 17.50v2.6 M345.78 317.50v-2.6 M358.30 17.50v2.6 M358.30 317.50v-2.6 M370.82 17.50v8.0 M370.82 317.50v-8.0 M45.30 317.50v1.6 M45.30 477.60v-1.6 M57.82 317.50v1.6 M57.82 477.60v-1.6 M70.34 317.50v1.6 M70.34 477.60v-1.6 M82.86 317.50v1.6 M82.86 477.60v-1.6 M95.38 317.50v1.6 M95.38 477.60v-1.6 M107.90 317.50v1.6 M107.90 477.60v-1.6 M120.42 317.50v4.8 M120.42 477.60v-4.8 M132.94 317.50v1.6 M132.94 477.60v-1.6 M145.46 317.50v1.6 M145.46 477.60v-1.6 M157.98 317.50v1.6 M157.98 477.60v-1.6 M170.50 317.50v1.6 M170.50 477.60v-1.6 M183.02 317.50v1.6 M183.02 477.60v-1.6 M195.54 317.50v1.6 M195.54 477.60v-1.6 M208.06 317.50v1.6 M208.06 477.60v-1.6 M220.58 317.50v1.6 M220.58 477.60v-1.6 M233.10 317.50v1.6 M233.10 477.60v-1.6 M245.62 317.50v4.8 M245.62 477.60v-4.8 M258.14 317.50v1.6 M258.14 477.60v-1.6 M270.66 317.50v1.6 M270.66 477.60v-1.6 M283.18 317.50v1.6 M283.18 477.60v-1.6 M295.70 317.50v1.6 M295.70 477.60v-1.6 M308.22 317.50v1.6 M308.22 477.60v-1.6 M320.74 317.50v1.6 M320.74 477.60v-1.6 M333.26 317.50v1.6 M333.26 477.60v-1.6 M345.78 317.50v1.6 M345.78 477.60v-1.6 M358.30 317.50v1.6 M358.30 477.60v-1.6 M370.82 317.50v4.8 M370.82 477.60v-4.8 M45.50 312.02h5.5 M371.40 312.02h-5.5 M45.50 304.80h5.5 M371.40 304.80h-5.5 M45.50 299.20h5.5 M371.40 299.20h-5.5 M45.50 294.63h5.5 M371.40 294.63h-5.5 M45.50 290.76h5.5 M371.40 290.76h-5.5 M45.50 287.41h5.5 M371.40 287.41h-5.5 M45.50 284.45h5.5 M371.40 284.45h-5.5 M45.50 281.81h11.0 M371.40 281.81h-11.0 M45.50 264.42h5.5 M371.40 264.42h-5.5 M45.50 254.25h5.5 M371.40 254.25h-5.5 M45.50 247.03h5.5 M371.40 247.03h-5.5 M45.50 241.43h5.5 M371.40 241.43h-5.5 M45.50 236.86h5.5 M371.40 236.86h-5.5 M45.50 232.99h5.5 M371.40 232.99h-5.5 M45.50 229.64h5.5 M371.40 229.64h-5.5 M45.50 226.68h5.5 M371.40 226.68h-5.5 M45.50 224.04h11.0 M371.40 224.04h-11.0 M45.50 206.65h5.5 M371.40 206.65h-5.5 M45.50 196.48h5.5 M371.40 196.48h-5.5 M45.50 189.26h5.5 M371.40 189.26h-5.5 M45.50 183.66h5.5 M371.40 183.66h-5.5 M45.50 179.09h5.5 M371.40 179.09h-5.5 M45.50 175.22h5.5 M371.40 175.22h-5.5 M45.50 171.87h5.5 M371.40 171.87h-5.5 M45.50 168.91h5.5 M371.40 168.91h-5.5 M45.50 166.27h11.0 M371.40 166.27h-11.0 M45.50 148.88h5.5 M371.40 148.88h-5.5 M45.50 138.71h5.5 M371.40 138.71h-5.5 M45.50 131.49h5.5 M371.40 131.49h-5.5 M45.50 125.89h5.5 M371.40 125.89h-5.5 M45.50 121.32h5.5 M371.40 121.32h-5.5 M45.50 117.45h5.5 M371.40 117.45h-5.5 M45.50 114.10h5.5 M371.40 114.10h-5.5 M45.50 111.14h5.5 M371.40 111.14h-5.5 M45.50 108.50h11.0 M371.40 108.50h-11.0 M45.50 91.11h5.5 M371.40 91.11h-5.5 M45.50 80.94h5.5 M371.40 80.94h-5.5 M45.50 73.72h5.5 M371.40 73.72h-5.5 M45.50 68.12h5.5 M371.40 68.12h-5.5 M45.50 63.55h5.5 M371.40 63.55h-5.5 M45.50 59.68h5.5 M371.40 59.68h-5.5 M45.50 56.33h5.5 M371.40 56.33h-5.5 M45.50 53.37h5.5 M371.40 53.37h-5.5 M45.50 50.73h11.0 M371.40 50.73h-11.0 M45.50 33.34h5.5 M371.40 33.34h-5.5 M45.50 23.17h5.5 M371.40 23.17h-5.5 M45.50 477.68h5.0 M371.40 477.68h-5.0 M45.50 458.16h7.0 M371.40 458.16h-7.0 M45.50 442.20h5.0 M371.40 442.20h-5.0 M45.50 428.71h5.0 M371.40 428.71h-5.0 M45.50 417.03h5.0 M371.40 417.03h-5.0 M45.50 406.72h5.0 M371.40 406.72h-5.0 M45.50 397.50h7.0 M371.40 397.50h-7.0 M45.50 389.16h5.0 M371.40 389.16h-5.0 M45.50 381.54h5.0 M371.40 381.54h-5.0 M45.50 374.54h5.0 M371.40 374.54h-5.0 M45.50 368.06h5.0 M371.40 368.06h-5.0 M45.50 362.02h5.0 M371.40 362.02h-5.0 M45.50 356.37h5.0 M371.40 356.37h-5.0 M45.50 351.06h5.0 M371.40 351.06h-5.0 M45.50 346.06h5.0 M371.40 346.06h-5.0 M45.50 341.33h5.0 M371.40 341.33h-5.0 M45.50 336.84h7.0 M371.40 336.84h-7.0 M45.50 332.57h5.0 M371.40 332.57h-5.0 M45.50 328.50h5.0 M371.40 328.50h-5.0 M45.50 324.61h5.0 M371.40 324.61h-5.0 M45.50 320.89h5.0 M371.40 320.89h-5.0" stroke="#000" stroke-width="1" fill="none"/>
<text x="51.5" y="14" font-size="12">13000 GeV pp</text>
<text x="365.5" y="13.6" font-size="12" text-anchor="end">Z+Jet</text>
<text x="77" y="42.3" font-size="12">Transverse region, 60 &lt; p<tspan font-size="8" dx="-2" dy="-6.5">Z</tspan><tspan font-size="9" dx="-5" dy="13">T</tspan><tspan dy="-6.5"> &lt; 80 [GeV], high thrust</tspan></text>
<text x="40" y="54.9" font-size="11" text-anchor="end">10</text>
<text x="33.0" y="171.2" font-size="11" text-anchor="end">10</text>
<path d="M33.3 165.0H36.6" stroke="#000" stroke-width="0.9"/>
<text x="37.0" y="167.0" font-size="7.8"></text>
<text x="30.6" y="228.9" font-size="11" text-anchor="end">10</text>
<path d="M30.4 222.7H33.6" stroke="#000" stroke-width="0.9"/>
<text x="33.5" y="224.7" font-size="7.8">2</text>
<text x="30.7" y="286.7" font-size="11" text-anchor="end">10</text>
<path d="M30.4 280.5H34.0" stroke="#000" stroke-width="0.9"/>
<text x="34.6" y="282.5" font-size="7.8">3</text>
<text transform="translate(14.9,166.3) rotate(-90)" font-size="12.2" letter-spacing="-0.25">1/N<tspan font-size="8" dy="2.7">ev</tspan><tspan dy="-2.7"> dN</tspan><tspan font-size="8" dy="2.7">ev</tspan><tspan dy="-2.7">/d mean p</tspan><tspan font-size="8.5" dy="7">T</tspan><tspan dy="-7" letter-spacing="0"> [GeV]</tspan><tspan font-size="8" dy="-6">1</tspan></text>
<text transform="translate(380,127.5) rotate(-90)" font-size="9.4" fill="#999">Rivet 4.1.0, ≥ 400k events</text>
<text transform="translate(380,313) rotate(-90)" font-size="9.9" fill="#999">mcplots.cern.ch [arXiv:2401.10621]</text>
<text x="163" y="302.4" font-size="8" fill="#999">(ATLAS_2019_I1736531)</text>
<text x="94.3" y="227.3" font-size="9.3">ATLAS</text>
<rect x="73.60" y="221.00" width="5.8" height="5.8" fill="#000"/>
<text x="94.3" y="240.4" font-size="9.3">Herwig 7.2.1 default</text>
<line x1="64" y1="237.0" x2="89" y2="237.0" stroke="#3a9a2c" stroke-opacity="0.7" stroke-width="1.2" stroke-dasharray="2.2,2"/>
<rect x="73.80" y="234.30" width="5.4" height="5.4" fill="none" stroke="#3a9a2c" stroke-width="1.1"/><rect x="76.00" y="236.50" width="1" height="1" fill="#3a9a2c"/>
<text x="94.3" y="253.5" font-size="9.3">Pythia 6.427 370</text>
<line x1="64" y1="250.1" x2="89" y2="250.1" stroke="#a8102c" stroke-opacity="0.6" stroke-width="1.3"/>
<polygon points="76.50,246.50 73.30,252.30 79.70,252.30" fill="none" stroke="#a8102c" stroke-width="1.1"/>
<text x="94.3" y="266.6" font-size="9.3">Pythia 8.315 default</text>
<line x1="64" y1="263.2" x2="89" y2="263.2" stroke="#0000ff" stroke-opacity="0.65" stroke-width="1.3"/>
<polygon points="76.50,259.60 73.30,265.40 79.70,265.40" fill="#0000ff"/>
<text x="94.3" y="279.7" font-size="9.3">Sherpa 2.2.9 default</text>
<line x1="64" y1="276.3" x2="89" y2="276.3" stroke="#ff0000" stroke-opacity="0.6" stroke-width="1.2" stroke-dasharray="1,1.5"/>
<polygon points="76.50,273.10 78.60,276.30 76.50,279.50 74.40,276.30" fill="#ff0000"/>
<path d="M121.50 488.20V481.50M119.19 482.50L121.30 482.10" stroke="#000" stroke-width="1.15" fill="none" stroke-linecap="round"/>
<path d="M38.70 112.40V105.80M36.42 106.80L38.50 106.40" stroke="#000" stroke-width="1.15" fill="none" stroke-linecap="round"/>
<path d="M37.20 401.30V394.60M34.89 395.60L37.00 395.20" stroke="#000" stroke-width="1.15" fill="none" stroke-linecap="round"/>
<path d="M377.60 401.80V394.90M375.23 395.90L377.40 395.50" stroke="#000" stroke-width="1.15" fill="none" stroke-linecap="round"/>
<path d="M39.40 166.50V162.50M37.90 163.50L39.20 163.10" stroke="#000" stroke-width="0.90" fill="none" stroke-linecap="round"/>
<text x="38.7" y="341.0" font-size="11.6" text-anchor="end">2</text>
<text x="373.3" y="341.0" font-size="11.6">2</text>
<text x="38.7" y="462.4" font-size="11.6" text-anchor="end">0.5</text>
<text x="373.3" y="462.4" font-size="11.6">0.5</text>
<text transform="translate(18.6,427.5) rotate(-90)" font-size="9.3">Ratio to ATLAS</text>
<text x="245.6" y="489" font-size="11" text-anchor="middle">2</text>
<text x="370.8" y="488.7" font-size="11" text-anchor="middle">3</text>
<text x="289.5" y="500.4" font-size="12">Mean p<tspan font-size="9" dy="6">T</tspan><tspan dy="-6">/dη dϕ</tspan></text>
</svg></body></html>
